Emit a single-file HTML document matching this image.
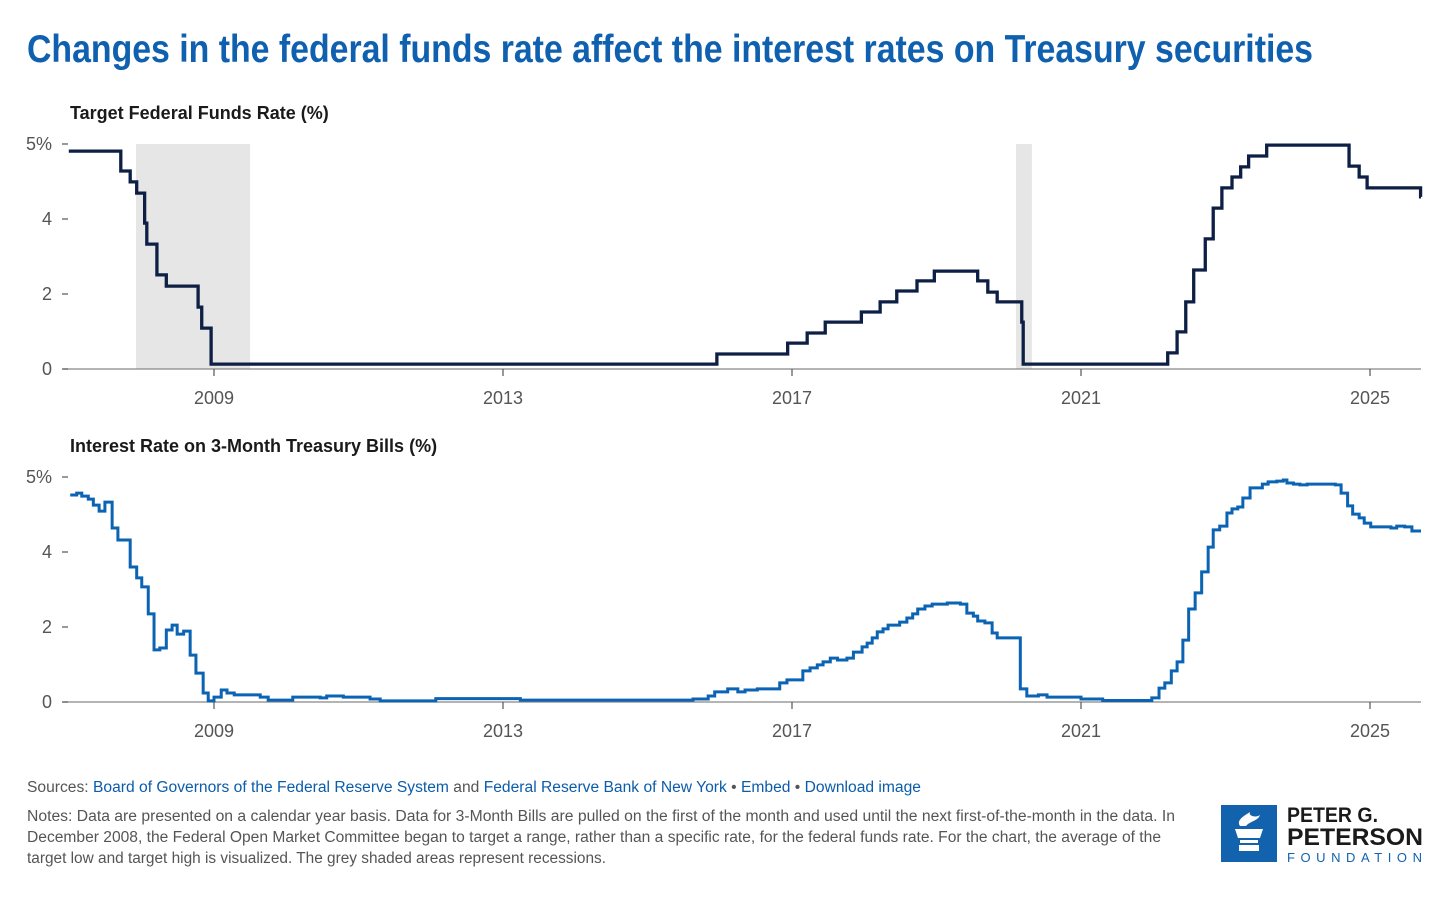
<!DOCTYPE html>
<html><head><meta charset="utf-8"><style>
html,body{margin:0;padding:0;background:#fff;}
svg{display:block;font-family:"Liberation Sans",sans-serif;}
.tick{font-size:18px;fill:#555;}
.sub{font-size:18px;font-weight:bold;fill:#1a1a1a;}
.foot{font-size:15.5px;fill:#555;}
.lnk{fill:#0b5cab;}
</style></head><body>
<svg id="chart" width="1456" height="902" viewBox="0 0 1456 902">
<text x="27" y="62" textLength="1286" lengthAdjust="spacingAndGlyphs" style="font-family:'Liberation Sans Narrow','Liberation Sans',sans-serif;font-weight:bold;font-size:39px;fill:#1060b0">Changes in the federal funds rate affect the interest rates on Treasury securities</text>
<g id="p1"></g>
<g id="p2"></g>
<g>
<text class="foot" x="27" y="792" textLength="894" lengthAdjust="spacingAndGlyphs">Sources: <tspan class="lnk">Board of Governors of the Federal Reserve System</tspan> and <tspan class="lnk">Federal Reserve Bank of New York</tspan>  •  <tspan class="lnk">Embed</tspan>  •  <tspan class="lnk">Download image</tspan></text>
<text class="foot" x="27" y="821" textLength="1148" lengthAdjust="spacingAndGlyphs">Notes: Data are presented on a calendar year basis. Data for 3-Month Bills are pulled on the first of the month and used until the next first-of-the-month in the data. In</text>
<text class="foot" x="27" y="842" textLength="1134" lengthAdjust="spacingAndGlyphs">December 2008, the Federal Open Market Committee began to target a range, rather than a specific rate, for the federal funds rate. For the chart, the average of the</text>
<text class="foot" x="27" y="863" textLength="579" lengthAdjust="spacingAndGlyphs">target low and target high is visualized. The grey shaded areas represent recessions.</text>
</g>
<g>
<rect x="1221" y="805" width="56" height="57" fill="#1262ae"/>
<path d="M1235 829h28l-3 9h-22z M1240 840h18v3h-18z M1239 845h20v6h-20z" fill="#fff"/>
<path d="M1240 826c-4-6 4-10 10-14c-2 4 6 6 10 3c-2 6-10 6-14 11z" fill="#fff"/>
<text x="1287" y="822" textLength="91" lengthAdjust="spacingAndGlyphs" style="font-size:21px;font-weight:bold;fill:#1a1a1a">PETER G.</text>
<text x="1287" y="845" textLength="136" lengthAdjust="spacingAndGlyphs" style="font-size:24px;font-weight:bold;fill:#1a1a1a">PETERSON</text>
<text x="1287" y="862" textLength="135" lengthAdjust="spacing" style="font-size:13px;fill:#1262ae">FOUNDATION</text>
</g>
</svg>
<script>
// data (decimal year, value in chart-apparent %)
const yearTicks = [2009, 2013, 2017, 2021, 2025];
const valueTicks = [0, 2, 4, 6];
const valueTickLabels = ["0", "2", "4", "5%"];
const recessions = [[2007.92, 2009.5], [2020.1, 2020.32]];
const fedT = [2006.99,2007.71,2007.84,2007.93,2008.04,2008.07,2008.21,2008.34,2008.78,2008.83,2008.96,2015.96,2016.94,2017.21,2017.46,2017.96,2018.22,2018.45,2018.73,2018.97,2019.57,2019.71,2019.84,2020.18,2020.2,2022.2,2022.33,2022.45,2022.56,2022.72,2022.83,2022.95,2023.09,2023.21,2023.32,2023.57,2024.71,2024.85,2024.96,2025.7];
const fedV = [5.81,5.28,4.99,4.69,3.89,3.33,2.51,2.21,1.65,1.09,0.13,0.40,0.69,0.96,1.25,1.52,1.79,2.08,2.35,2.61,2.35,2.05,1.79,1.25,0.13,0.43,0.99,1.79,2.64,3.47,4.29,4.83,5.12,5.39,5.68,5.97,5.41,5.12,4.83,4.59];
const billT = [2007.01,2007.10,2007.17,2007.26,2007.33,2007.41,2007.49,2007.59,2007.67,2007.84,2007.93,2008.00,2008.09,2008.17,2008.25,2008.34,2008.42,2008.49,2008.58,2008.67,2008.75,2008.85,2008.92,2009.00,2009.10,2009.18,2009.28,2009.64,2009.75,2010.09,2010.47,2010.56,2010.79,2011.16,2011.30,2012.07,2013.24,2015.63,2015.84,2015.93,2016.11,2016.25,2016.35,2016.52,2016.83,2016.93,2017.15,2017.25,2017.35,2017.43,2017.53,2017.63,2017.76,2017.85,2017.97,2018.04,2018.11,2018.18,2018.26,2018.33,2018.49,2018.59,2018.67,2018.74,2018.84,2018.94,2019.15,2019.33,2019.42,2019.51,2019.57,2019.67,2019.77,2019.84,2020.16,2020.25,2020.41,2020.53,2021.0,2021.3,2021.98,2022.08,2022.16,2022.25,2022.33,2022.41,2022.49,2022.58,2022.67,2022.76,2022.83,2022.92,2023.02,2023.09,2023.17,2023.24,2023.34,2023.51,2023.59,2023.71,2023.80,2023.85,2023.94,2024.03,2024.13,2024.52,2024.60,2024.69,2024.76,2024.85,2024.92,2025.01,2025.29,2025.37,2025.48,2025.58,2025.68];
const billV = [5.52,5.57,5.49,5.41,5.25,5.09,5.33,4.64,4.32,3.60,3.31,3.07,2.35,1.39,1.44,1.92,2.05,1.81,1.89,1.25,0.77,0.24,0.03,0.13,0.32,0.24,0.19,0.13,0.05,0.13,0.11,0.16,0.13,0.08,0.03,0.09,0.05,0.08,0.16,0.27,0.35,0.27,0.32,0.35,0.51,0.59,0.83,0.91,0.99,1.07,1.17,1.12,1.17,1.33,1.47,1.57,1.71,1.87,1.95,2.05,2.13,2.24,2.35,2.48,2.56,2.61,2.64,2.61,2.37,2.29,2.16,2.11,1.84,1.71,0.35,0.16,0.19,0.13,0.08,0.04,0.11,0.37,0.51,0.83,1.07,1.65,2.48,2.91,3.47,4.13,4.59,4.69,5.04,5.15,5.20,5.44,5.71,5.81,5.87,5.89,5.92,5.84,5.81,5.79,5.81,5.79,5.57,5.23,5.01,4.91,4.77,4.67,4.64,4.69,4.67,4.56,4.56];

const NS = "http://www.w3.org/2000/svg";
const X0 = 63, X1 = 1421;
const xs = t => 214 + (t - 2009) * 72.25;
function mk(tag, attrs, parent) {
  const e = document.createElementNS(NS, tag);
  for (const k in attrs) e.setAttribute(k, attrs[k]);
  parent.appendChild(e); return e;
}
function panel(g, base, title, T, V, color, shade, sw) {
  const ys = v => base - v * 37.5;
  const top = ys(6);
  if (shade) recessions.forEach(r => {
    const rr = mk('rect', {x: xs(r[0]), y: top, width: xs(r[1]) - xs(r[0]), height: base - top, fill: '#e6e6e6'}, g);
    
    
  });
  const tt = mk('text', {x: 70, y: base - 250, class: 'sub'}, g);
  tt.textContent = title;
  
  
  const ax = mk('line', {x1: X0, x2: X1, y1: base, y2: base, stroke: '#888', 'stroke-width': 1.2}, g);
  
  
  valueTicks.forEach((v, i) => {
    const lb = mk('text', {x: 52, y: ys(v) + 6, class: 'tick', 'text-anchor': 'end'}, g);
    lb.textContent = valueTickLabels[i];
    
    
    const tk = mk('line', {x1: 62, x2: 68, y1: ys(v), y2: ys(v), stroke: '#555', 'stroke-width': 1.2}, g);
    
    
  });
  yearTicks.forEach(y => {
    const tk = mk('line', {x1: xs(y), x2: xs(y), y1: base, y2: base + 7, stroke: '#555', 'stroke-width': 1.2}, g);
    
    
    const lb = mk('text', {x: xs(y), y: base + 35, class: 'tick', 'text-anchor': 'middle'}, g);
    lb.textContent = y;
    
    
  });
  let d = 'M' + xs(T[0]) + ',' + ys(V[0]);
  for (let i = 1; i < T.length; i++) d += 'H' + xs(T[i]) + 'V' + ys(V[i]);
  d += 'H' + X1;
  const p = mk('path', {d: d, fill: 'none', stroke: color, 'stroke-width': sw, 'stroke-linejoin': 'miter'}, g);
  
  
}
panel(document.getElementById('p1'), 369, 'Target Federal Funds Rate (%)', fedT, fedV, '#0d1f44', true, 3.3);
panel(document.getElementById('p2'), 702, 'Interest Rate on 3-Month Treasury Bills (%)', billT, billV, '#0b63b3', false, 3);
</script>
</body></html>
